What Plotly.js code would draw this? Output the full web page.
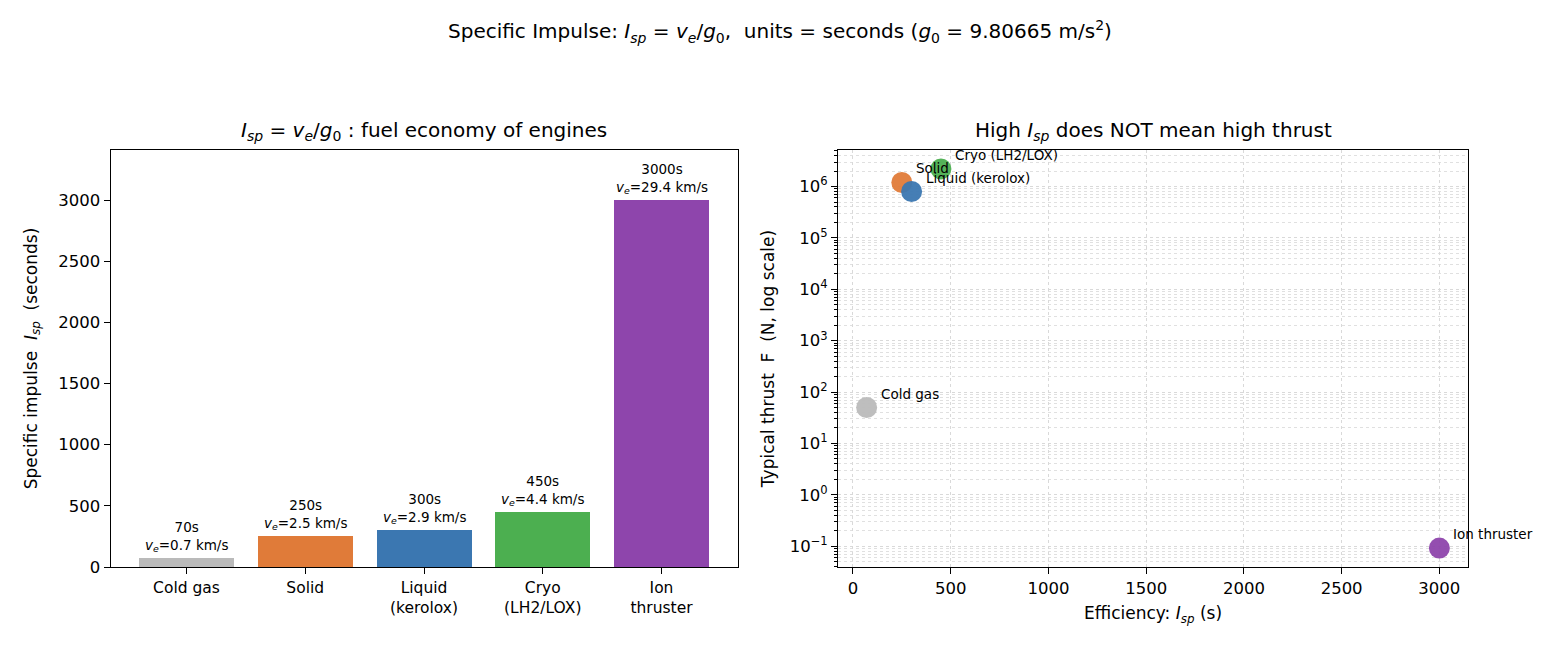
<!DOCTYPE html>
<html>
<head>
<meta charset="utf-8">
<script src="https://cdn.plot.ly/plotly-3.0.1.min.js"></script>
<style>html,body{margin:0;padding:0;background:#fff;}#chart{width:1560px;height:650px;}</style>
</head>
<body>
<div id="chart"></div>
<script>
// ---- data ----
const categories = ['Cold gas', 'Solid', 'Liquid (kerolox)', 'Cryo (LH2/LOX)', 'Ion thruster'];
const tickLabels = ['Cold gas', 'Solid', 'Liquid<br>(kerolox)', 'Cryo<br>(LH2/LOX)', 'Ion<br>thruster'];
const ispSeconds = [70, 250, 300, 450, 3000];
const veKms = [0.7, 2.5, 2.9, 4.4, 29.4];
const thrustN = [50, 1.2e6, 8e5, 2.2e6, 0.092];
const pointLabels = ['Cold gas', 'Solid', 'Liquid (kerolox)', 'Cryo (LH2/LOX)', 'Ion thruster'];
const colors = ['#bababa', '#e07b39', '#3b77b1', '#4caf50', '#8e45ac'];
const logTickVals = [-1, 0, 1, 2, 3, 4, 5, 6];

const FONT = 'DejaVu Sans, Verdana, sans-serif';
const W = 1560, H = 650;
const px = v => v / W, py = v => (H - v) / H;

const ISP = '<i>I<sub>sp</sub></i>';
const VE = '<i>v<sub>e</sub></i>';
const G0 = '<i>g</i><sub>0</sub>';

const bars = {
  type: 'bar', x: categories, y: ispSeconds, width: 0.8,
  marker: {color: colors, line: {width: 0}},
  xaxis: 'x', yaxis: 'y', hoverinfo: 'x+y', showlegend: false
};
const pts = {
  type: 'scatter', mode: 'markers', x: ispSeconds, y: thrustN,
  marker: {color: colors, size: 21, opacity: 0.95, line: {width: 0}},
  xaxis: 'x2', yaxis: 'y2', showlegend: false
};

const annotations = [];
// bar labels
categories.forEach((c, i) => {
  annotations.push({
    x: c, y: ispSeconds[i], xref: 'x', yref: 'y', xanchor: 'center', yanchor: 'bottom',
    yshift: 2, showarrow: false, align: 'center',
    text: ispSeconds[i] + 's<br>' + VE + '=' + veKms[i] + ' km/s',
    font: {family: FONT, size: 13.5, color: '#000'}
  });
});
// scatter labels
pointLabels.forEach((t, i) => {
  annotations.push({
    x: ispSeconds[i], y: Math.log10(thrustN[i]), xref: 'x2', yref: 'y2',
    xanchor: 'left', yanchor: 'bottom', xshift: 12, yshift: 4, showarrow: false,
    text: t, font: {family: FONT, size: 13.5, color: '#000'}
  });
});
// titles
annotations.push({
  xref: 'paper', yref: 'paper', x: px(780), y: py(32), xanchor: 'center', yanchor: 'middle', showarrow: false,
  text: 'Specific Impulse: ' + ISP + ' = ' + VE + '/' + G0 + ',  units = seconds (' + G0 + ' = 9.80665 m/s<sup>2</sup>)',
  font: {family: FONT, size: 20, color: '#000'}
});
annotations.push({
  xref: 'paper', yref: 'paper', x: px(424), y: py(131), xanchor: 'center', yanchor: 'middle', showarrow: false,
  text: ISP + ' = ' + VE + '/' + G0 + ' : fuel economy of engines',
  font: {family: FONT, size: 20, color: '#000'}
});
annotations.push({
  xref: 'paper', yref: 'paper', x: px(1153), y: py(131), xanchor: 'center', yanchor: 'middle', showarrow: false,
  text: 'High ' + ISP + ' does NOT mean high thrust',
  font: {family: FONT, size: 20, color: '#000'}
});

// minor tick positions for log axis (2..9 per decade)
const minorVals = [];
for (let d = -2; d <= 6; d++) for (let m = 2; m <= 9; m++) minorVals.push(m * Math.pow(10, d));

const axCommon = {
  showline: true, linecolor: '#000', linewidth: 1, mirror: true,
  ticks: 'outside', ticklen: 6, tickwidth: 1, tickcolor: '#000',
  zeroline: false, tickfont: {family: FONT, size: 16.5, color: '#000'}
};

const layout = {
  width: W, height: H, margin: {l: 0, r: 0, t: 0, b: 0},
  paper_bgcolor: '#fff', plot_bgcolor: '#fff',
  font: {family: FONT, color: '#000'},
  bargap: 0,
  xaxis: Object.assign({}, axCommon, {
    domain: [px(110.5), px(737.5)], anchor: 'y', type: 'category',
    range: [-0.64, 4.64], tickvals: categories, ticktext: tickLabels,
    tickfont: {family: FONT, size: 15.5, color: '#000'}, showgrid: false
  }),
  yaxis: Object.assign({}, axCommon, {
    domain: [py(567), py(150)], anchor: 'x', range: [0, 3409],
    tickvals: [0, 500, 1000, 1500, 2000, 2500, 3000], showgrid: false,
    title: {text: 'Specific impulse  ' + ISP + '  (seconds)', font: {family: FONT, size: 17}, standoff: 16}
  }),
  xaxis2: Object.assign({}, axCommon, {
    domain: [px(838), px(1468)], anchor: 'y2', range: [-76.5, 3146.5],
    tickvals: [0, 500, 1000, 1500, 2000, 2500, 3000],
    showgrid: true, gridcolor: '#d9d9d9', griddash: 'dot', gridwidth: 1,
    title: {text: 'Efficiency: ' + ISP + ' (s)', font: {family: FONT, size: 17}, standoff: 10}
  }),
  yaxis2: Object.assign({}, axCommon, {
    domain: [py(567), py(150)], anchor: 'x2', type: 'log', range: [-1.405, 6.711],
    tickvals: logTickVals.map(v => Math.pow(10, v)),
    ticktext: logTickVals.map(v => '10<sup>' + (v < 0 ? '\u2212' + (-v) : v) + '</sup>'),
    showgrid: true, gridcolor: '#d9d9d9', griddash: 'dot', gridwidth: 1,
    minor: {tickmode: 'array', tickvals: minorVals, ticks: 'outside', ticklen: 3.5, tickcolor: '#000',
            showgrid: true, gridcolor: '#e0e0e0', griddash: 'dot', gridwidth: 1},
    title: {text: 'Typical thrust  F  (N, log scale)', font: {family: FONT, size: 17}, standoff: 10}
  }),
  annotations: annotations
};

Plotly.newPlot('chart', [bars, pts], layout, {displayModeBar: false, staticPlot: true});
</script>
</body>
</html>
